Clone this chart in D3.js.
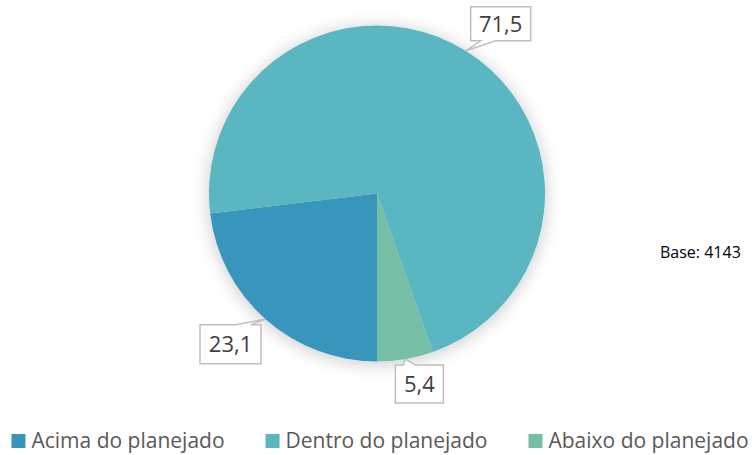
<!DOCTYPE html>
<html>
<head>
<meta charset="utf-8">
<script src="https://cdn.jsdelivr.net/npm/d3@7"></script>
<style>
  body { margin: 0; background: #fff; }
  svg { display: block; font-family: "Open Sans", Lato, sans-serif; }
</style>
</head>
<body>
<div id="wrapper"></div>
<script>
// chart values
const categories = ["Acima do planejado", "Dentro do planejado", "Abaixo do planejado"];
const values = [23.1, 71.5, 5.4];
const labels = ["23,1", "71,5", "5,4"];
const colors = ["#3795BC", "#5AB6C1", "#77BEA6"];
const baseNote = "Base: 4143";

const width = 752;
const height = 455;
const center = { x: 377, y: 193.5 };
const radius = 168;

// label box offsets from the slice edge point (layout only)
const labelOffsets = [[-35, 25], [35, -27], [14, 25]];
const labelSize = [[61, 39], [60, 34], [48, 38]];

const svg = d3.select("#wrapper")
  .append("svg")
  .attr("width", width)
  .attr("height", height);

const defs = svg.append("defs");
const shadow = defs.append("filter")
  .attr("id", "glow")
  .attr("x", "-30%").attr("y", "-30%")
  .attr("width", "160%").attr("height", "160%");
shadow.append("feGaussianBlur")
  .attr("in", "SourceAlpha")
  .attr("stdDeviation", 9)
  .attr("result", "blur");
shadow.append("feOffset").attr("in", "blur").attr("dy", 2).attr("result", "off");
shadow.append("feComponentTransfer").attr("in", "off").attr("result", "soft")
  .append("feFuncA").attr("type", "linear").attr("slope", 0.22);
const merge = shadow.append("feMerge");
merge.append("feMergeNode").attr("in", "soft");
merge.append("feMergeNode").attr("in", "SourceGraphic");

// Excel-style: first slice starts at 180 degrees, clockwise
const pie = d3.pie()
  .sort(null)
  .startAngle(Math.PI)
  .endAngle(3 * Math.PI)
  .value(d => d);

const arcs = pie(values);

const arc = d3.arc()
  .innerRadius(0)
  .outerRadius(radius);

const bounds = svg.append("g")
  .attr("transform", `translate(${center.x},${center.y})`);

bounds.append("g")
  .attr("filter", "url(#glow)")
  .selectAll("path")
  .data(arcs)
  .join("path")
  .attr("d", arc)
  .attr("fill", (d, i) => colors[i]);

// wedge rectangle callouts
function calloutPath(x0, y0, w, h, tx, ty) {
  const cx = x0 + w / 2, cy = y0 + h / 2;
  const dx = tx - cx, dy = ty - cy;
  const x1 = x0 + w, y1 = y0 + h;
  if (Math.abs(dx) / w > Math.abs(dy) / h) {
    const a = dy < 0 ? y0 + h * 2 / 12 : y0 + h * 7 / 12;
    const b = dy < 0 ? y0 + h * 5 / 12 : y0 + h * 10 / 12;
    if (dx < 0) {
      return `M${x0},${y0}H${x1}V${y1}H${x0}V${b}L${tx},${ty}L${x0},${a}Z`;
    }
    return `M${x0},${y0}H${x1}V${a}L${tx},${ty}L${x1},${b}V${y1}H${x0}Z`;
  }
  const a = dx < 0 ? x0 + w * 2 / 12 : x0 + w * 7 / 12;
  const b = dx < 0 ? x0 + w * 5 / 12 : x0 + w * 10 / 12;
  if (dy < 0) {
    return `M${x0},${y0}H${a}L${tx},${ty}L${b},${y0}H${x1}V${y1}H${x0}Z`;
  }
  return `M${x0},${y0}H${x1}V${y1}H${b}L${tx},${ty}L${a},${y1}H${x0}Z`;
}

const labelGroup = bounds.append("g");
arcs.forEach((d, i) => {
  const mid = (d.startAngle + d.endAngle) / 2;
  const tx = Math.sin(mid) * radius;
  const ty = -Math.cos(mid) * radius;
  const [w, h] = labelSize[i];
  const bx = tx + labelOffsets[i][0] - w / 2;
  const by = ty + labelOffsets[i][1] - h / 2;
  labelGroup.append("path")
    .attr("d", calloutPath(bx, by, w, h, tx, ty))
    .attr("fill", "#fff")
    .attr("stroke", "#BFBFBF")
    .attr("stroke-width", 1.5)
    .attr("stroke-linejoin", "miter");
  labelGroup.append("text")
    .attr("x", bx + w / 2)
    .attr("y", by + h / 2)
    .attr("dy", "0.36em")
    .attr("text-anchor", "middle")
    .attr("fill", "#404040")
    .style("font-size", "22px")
    .text(labels[i]);
});

svg.append("text")
  .attr("x", 660)
  .attr("y", 258)
  .attr("fill", "#000")
  .style("font-size", "16px")
  .text(baseNote);

// legend, centred along the bottom
const legend = svg.append("g");
const items = legend.selectAll("g")
  .data(categories)
  .join("g");
items.append("rect")
  .attr("width", 14)
  .attr("height", 14)
  .attr("y", -14)
  .attr("fill", (d, i) => colors[i]);
items.append("text")
  .attr("x", 20)
  .attr("fill", "#595959")
  .style("font-size", "21px")
  .text(d => d);

let offset = 0;
const positions = [];
items.each(function () {
  const tw = d3.select(this).select("text").node().getComputedTextLength();
  positions.push(offset);
  offset += 20 + tw + 41;
});
const total = offset - 41;
items.attr("transform", (d, i) => `translate(${positions[i]},0)`);
legend.attr("transform", `translate(${380 - total / 2},448)`);
</script>
</body>
</html>
